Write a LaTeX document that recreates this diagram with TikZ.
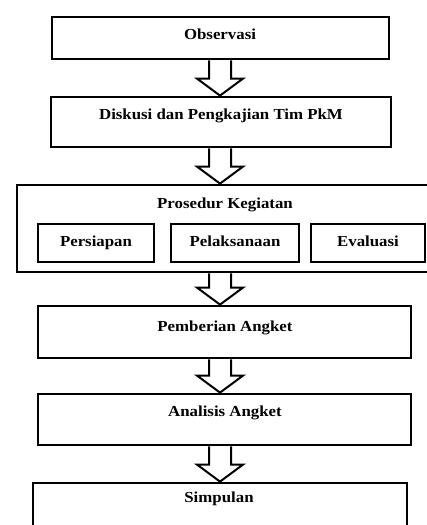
\documentclass[tikz,border=0pt]{standalone}
\usepackage{fontspec}
\setmainfont{Liberation Serif}[FakeStretch=1.1]
\usetikzlibrary{calc}

\tikzset{
  box/.style={draw, line width=2.8pt, rectangle, inner sep=0pt},
  boxtext/.style={anchor=mid, inner sep=0pt, font=\fontsize{15.3}{17}\selectfont\bfseries},
  arrowshape/.style={draw, fill=white, line width=2pt, line join=miter}
}

% hollow block arrow from the bottom of one box to the top of the next
\newcommand\blockarrow[2]{
  \draw[arrowshape] let \p1=(#1.south), \p2=(#2.north) in
    (209pt,\y1) -- (209pt,\y2+17pt) -- (197pt,\y2+17pt) -- (220pt,\y2)
    -- (243pt,\y2+17pt) -- (231pt,\y2+17pt) -- (231pt,\y1);
}

\begin{document}
\begin{tikzpicture}[x=1pt,y=-1pt]
  \useasboundingbox (0,0) rectangle (426,525);

  \node[box, minimum width=337pt, minimum height=42pt] (obs) at (220.5,38) {};
  \node[boxtext] (obstxt) at (220,37) {Observasi};

  \node[box, minimum width=340pt, minimum height=50pt] (disk) at (221,122) {};
  \node[boxtext] (disktxt) at (221,117) {Diskusi dan Pengkajian Tim PkM};

  \node[box, minimum width=415pt, minimum height=87pt] (pros) at (224.5,228.5) {};
  \node[boxtext] (prostxt) at (225,206) {Prosedur Kegiatan};

  % the three steps inside the procedure box
  \def\stepnames{{"Persiapan","Pelaksanaan","Evaluasi"}}
  \def\stepleft{{38,171,311}}
  \def\stepright{{154,299,425}}
  \foreach \i in {0,1,2} {
    \pgfmathsetmacro\l{\stepleft[\i]}
    \pgfmathsetmacro\r{\stepright[\i]}
    \pgfmathsetmacro\w{\r-\l}
    \pgfmathsetmacro\c{(\r+\l)/2}
    \node[box, minimum width=\w pt, minimum height=38pt] (step\i) at (\c,243) {};
    \node[boxtext] (steptxt\i) at (\c,244) {\pgfmathparse{\stepnames[\i]}\pgfmathresult};
  }

  \node[box, minimum width=373pt, minimum height=52pt] (angk) at (224.5,332) {};
  \node[boxtext] (angktxt) at (225,329) {Pemberian Angket};

  \node[box, minimum width=373pt, minimum height=51pt] (anal) at (224.5,419.5) {};
  \node[boxtext] (analtxt) at (225,414) {Analisis Angket};

  \node[box, minimum width=374pt, minimum height=62pt] (simp) at (220,514) {};
  \node[boxtext] (simptxt) at (219,500) {Simpulan};

  \blockarrow{obs}{disk}
  \blockarrow{disk}{pros}
  \blockarrow{pros}{angk}
  \blockarrow{angk}{anal}
  \blockarrow{anal}{simp}
\end{tikzpicture}
\end{document}
